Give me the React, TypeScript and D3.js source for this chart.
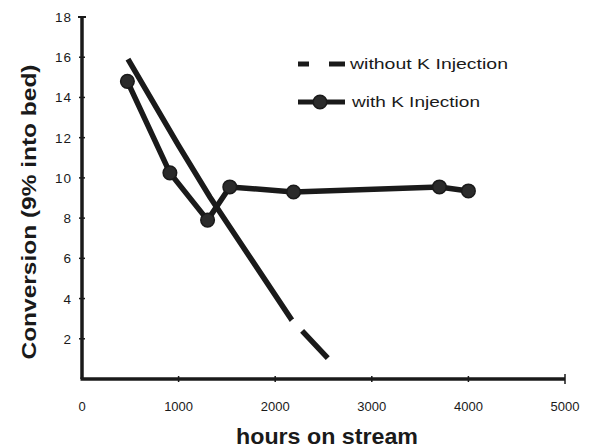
import React from "react";
import * as d3 from "d3";

// hours on stream / conversion
const withHours = [470, 910, 1300, 1530, 2190, 3700, 4000];
const withConv = [14.8, 10.25, 7.9, 9.55, 9.3, 9.55, 9.35];

const withoutHours = [476, 1000, 1324, 1530, 2172, 2544];
const withoutConv = [15.9, 11.6, 9.05, 7.56, 2.93, 1.04];

const xTicks = [0, 1000, 2000, 3000, 4000, 5000];
const yTicks = [2, 4, 6, 8, 10, 12, 14, 16, 18];

const legendLabels = ["without K Injection", "with K Injection"];

const ink = "#1a1a1a";
const font = "'Liberation Sans', Arial, Helvetica, sans-serif";

const App = () => {
  const width = 610;
  const height = 448;

  const x = d3.scaleLinear().domain([0, 5000]).range([82, 565]);
  const y = d3.scaleLinear().domain([0, 18]).range([379, 17]);

  const withPts: [number, number][] = withHours.map((h, i) => [x(h), y(withConv[i])]);
  const withoutPts: [number, number][] = withoutHours.map((h, i) => [x(h), y(withoutConv[i])]);
  const path = d3.line();

  // the dashed series has one visible break near the end
  let firstLen = 0;
  for (let i = 1; i < withoutPts.length - 1; i++) {
    firstLen += Math.hypot(withoutPts[i][0] - withoutPts[i - 1][0], withoutPts[i][1] - withoutPts[i - 1][1]);
  }
  const dash = `${firstLen} 15 1000`;

  return (
    <svg width={width} height={height} style={{ display: "block", position: "absolute", left: 0, top: 0 }}>
      <rect width={width} height={height} fill="#fff" />

      {/* axes */}
      <line x1={x(0)} x2={x(0)} y1={y(18)} y2={y(0)} stroke={ink} strokeWidth={3.5} />
      <line x1={x(0) - 1.5} x2={x(5000)} y1={y(0)} y2={y(0)} stroke={ink} strokeWidth={3.5} />
      <line x1={x(0) - 4} x2={x(0) + 4} y1={y(18)} y2={y(18)} stroke={ink} strokeWidth={2} />
      {yTicks.map((t) => (
        <g key={t}>
          <line x1={x(0) - 3} x2={x(0) + 3} y1={y(t)} y2={y(t)} stroke={ink} strokeWidth={1.5} />
          <text
            x={72}
            y={y(t) + 5}
            textAnchor="end"
            fontFamily={font}
            fontSize={13.5}
            letterSpacing={1}
            fill={ink}
          >
            {t}
          </text>
        </g>
      ))}
      {xTicks.map((t) => (
        <g key={t}>
          {t > 0 && (
            <line x1={x(t)} x2={x(t)} y1={y(0) - (t === 5000 ? 5 : 3)} y2={y(0) + (t === 5000 ? 5 : 3)} stroke={ink} strokeWidth={1.5} />
          )}
          <text x={x(t)} y={411} textAnchor="middle" fontFamily={font} fontSize={13} fill={ink}>
            {t}
          </text>
        </g>
      ))}

      <text
        x={327}
        y={444}
        textAnchor="middle"
        fontFamily={font}
        fontSize={22}
        fontWeight="bold"
        textLength={182}
        lengthAdjust="spacingAndGlyphs"
        fill={ink}
      >
        hours on stream
      </text>
      <text
        transform={`translate(36,212) rotate(-90)`}
        textAnchor="middle"
        fontFamily={font}
        fontSize={21}
        fontWeight="bold"
        textLength={295}
        lengthAdjust="spacingAndGlyphs"
        fill={ink}
      >
        Conversion (9% into bed)
      </text>

      {/* without K injection */}
      <path d={path(withoutPts) || ""} fill="none" stroke={ink} strokeWidth={5.5} strokeDasharray={dash} />

      {/* with K injection */}
      <path d={path(withPts) || ""} fill="none" stroke={ink} strokeWidth={5.5} strokeLinejoin="round" />
      {withPts.map((p, i) => (
        <circle key={i} cx={p[0]} cy={p[1]} r={6.8} fill="#2b2b2b" stroke={ink} strokeWidth={1.5} />
      ))}

      {/* legend */}
      <g fontFamily={font} fontSize={14} fill={ink}>
        <line x1={298} x2={309} y1={64} y2={64} stroke={ink} strokeWidth={5} />
        <line x1={329} x2={345} y1={64} y2={64} stroke={ink} strokeWidth={5} />
        <text x={350} y={69} textLength={158} lengthAdjust="spacingAndGlyphs">
          {legendLabels[0]}
        </text>
        <line x1={298} x2={345} y1={102} y2={102} stroke={ink} strokeWidth={5} />
        <circle cx={320} cy={102} r={6.8} fill="#2b2b2b" stroke={ink} strokeWidth={1.5} />
        <text x={352} y={107} textLength={128} lengthAdjust="spacingAndGlyphs">
          {legendLabels[1]}
        </text>
      </g>
    </svg>
  );
};

export default App;
